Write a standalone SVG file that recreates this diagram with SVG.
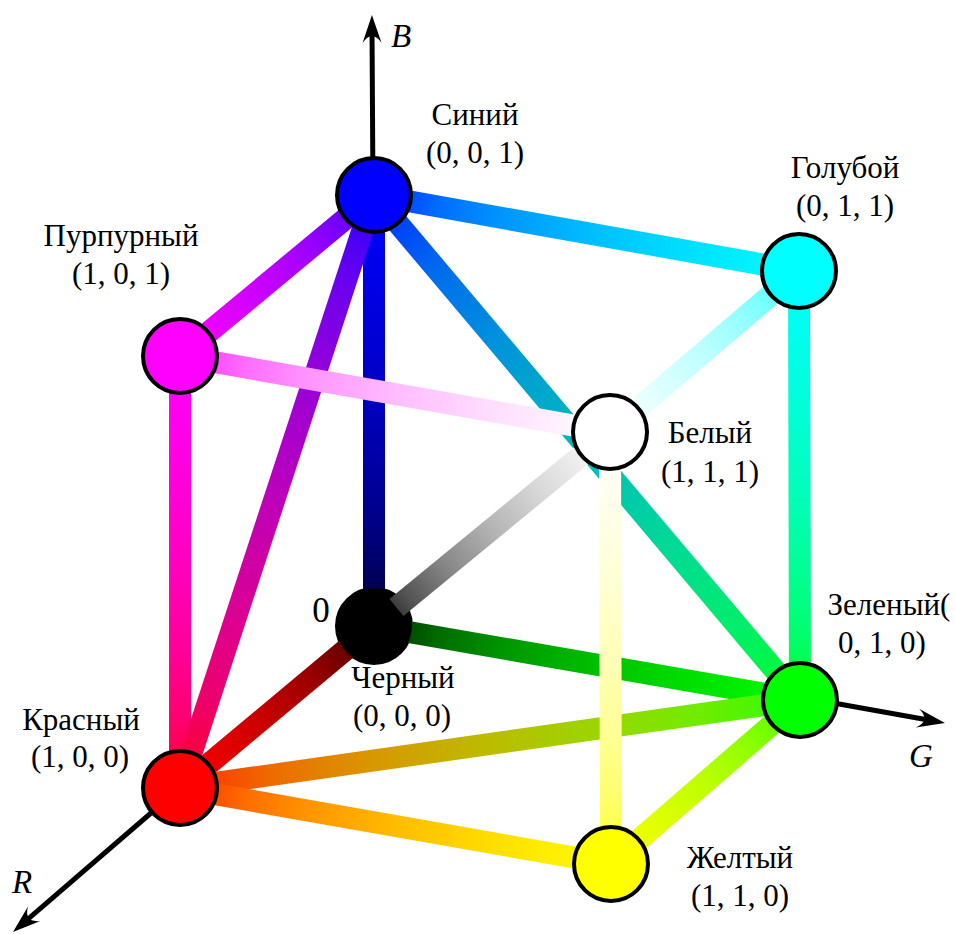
<svg xmlns="http://www.w3.org/2000/svg" width="955" height="934" viewBox="0 0 955 934">
<style>
.edge{fill:none;stroke-width:22;stroke-linecap:butt}
.node{stroke:#000;stroke-width:4}
.lbl{font-family:"Liberation Serif","Times New Roman",serif;font-size:31px;fill:#000;text-anchor:middle}
.ax{font-family:"Liberation Serif","Times New Roman",serif;font-size:33px;font-style:italic;fill:#000}
.axis{fill:none;stroke:#000;stroke-width:5}
</style>
<defs>
<marker id="arrow" viewBox="-30 -12 32 24" markerWidth="32" markerHeight="24" refX="-14" refY="0" markerUnits="userSpaceOnUse" orient="auto">
<path d="M0,0 L-28,-9.5 Q-14,0 -28,9.5 Z" fill="#000"/>
</marker>
<mask id="outsideK" maskUnits="userSpaceOnUse" x="0" y="0" width="955" height="934">
<rect width="955" height="934" fill="#fff"/>
<circle cx="374" cy="626" r="38" fill="#000"/>
</mask>
<linearGradient id="gKR" gradientUnits="userSpaceOnUse" x1="374" y1="626" x2="180" y2="788">
<stop offset="0" stop-color="#000000"/><stop offset=".05" stop-color="#3f0000"/><stop offset=".15" stop-color="#6c0000"/><stop offset=".3" stop-color="#950000"/><stop offset=".5" stop-color="#bc0000"/><stop offset=".7" stop-color="#da0000"/><stop offset=".85" stop-color="#ed0000"/><stop offset=".95" stop-color="#f90000"/><stop offset="1" stop-color="#ff0000"/>
</linearGradient>
<linearGradient id="gKG" gradientUnits="userSpaceOnUse" x1="374" y1="626" x2="800" y2="700">
<stop offset="0" stop-color="#000000"/><stop offset=".05" stop-color="#003f00"/><stop offset=".15" stop-color="#006c00"/><stop offset=".3" stop-color="#009500"/><stop offset=".5" stop-color="#00bc00"/><stop offset=".7" stop-color="#00da00"/><stop offset=".85" stop-color="#00ed00"/><stop offset=".95" stop-color="#00f900"/><stop offset="1" stop-color="#00ff00"/>
</linearGradient>
<linearGradient id="gKB" gradientUnits="userSpaceOnUse" x1="374" y1="626" x2="374" y2="195">
<stop offset="0" stop-color="#000000"/><stop offset=".05" stop-color="#00003f"/><stop offset=".15" stop-color="#00006c"/><stop offset=".3" stop-color="#000095"/><stop offset=".5" stop-color="#0000bc"/><stop offset=".7" stop-color="#0000da"/><stop offset=".85" stop-color="#0000ed"/><stop offset=".95" stop-color="#0000f9"/><stop offset="1" stop-color="#0000ff"/>
</linearGradient>
<linearGradient id="gKW" gradientUnits="userSpaceOnUse" x1="374" y1="626" x2="610" y2="432">
<stop offset="0" stop-color="#000000"/><stop offset=".05" stop-color="#2a2a2a"/><stop offset=".15" stop-color="#555555"/><stop offset=".3" stop-color="#858585"/><stop offset=".5" stop-color="#b4b4b4"/><stop offset=".7" stop-color="#d8d8d8"/><stop offset=".85" stop-color="#ededed"/><stop offset=".95" stop-color="#f9f9f9"/><stop offset="1" stop-color="#ffffff"/>
</linearGradient>
<linearGradient id="gRM" gradientUnits="userSpaceOnUse" x1="180" y1="788" x2="180" y2="356">
<stop offset="0" stop-color="#ff0000"/><stop offset=".05" stop-color="#ff003f"/><stop offset=".15" stop-color="#ff006c"/><stop offset=".3" stop-color="#ff0095"/><stop offset=".5" stop-color="#ff00bc"/><stop offset=".7" stop-color="#ff00da"/><stop offset=".85" stop-color="#ff00ed"/><stop offset=".95" stop-color="#ff00f9"/><stop offset="1" stop-color="#ff00ff"/>
</linearGradient>
<linearGradient id="gRB" gradientUnits="userSpaceOnUse" x1="180" y1="788" x2="374" y2="195">
<stop offset="0" stop-color="#ff0000"/><stop offset=".05" stop-color="#f9003f"/><stop offset=".15" stop-color="#ed006c"/><stop offset=".3" stop-color="#da0095"/><stop offset=".5" stop-color="#bc00bc"/><stop offset=".7" stop-color="#9500da"/><stop offset=".85" stop-color="#6c00ed"/><stop offset=".95" stop-color="#3f00f9"/><stop offset="1" stop-color="#0000ff"/>
</linearGradient>
<linearGradient id="gRG" gradientUnits="userSpaceOnUse" x1="180" y1="788" x2="800" y2="700">
<stop offset="0" stop-color="#ff0000"/><stop offset=".05" stop-color="#f93f00"/><stop offset=".15" stop-color="#ed6c00"/><stop offset=".3" stop-color="#da9500"/><stop offset=".5" stop-color="#bcbc00"/><stop offset=".7" stop-color="#95da00"/><stop offset=".85" stop-color="#6ced00"/><stop offset=".95" stop-color="#3ff900"/><stop offset="1" stop-color="#00ff00"/>
</linearGradient>
<linearGradient id="gRY" gradientUnits="userSpaceOnUse" x1="180" y1="788" x2="611" y2="864">
<stop offset="0" stop-color="#ff0000"/><stop offset=".05" stop-color="#ff3f00"/><stop offset=".15" stop-color="#ff6c00"/><stop offset=".3" stop-color="#ff9500"/><stop offset=".5" stop-color="#ffbc00"/><stop offset=".7" stop-color="#ffda00"/><stop offset=".85" stop-color="#ffed00"/><stop offset=".95" stop-color="#fff900"/><stop offset="1" stop-color="#ffff00"/>
</linearGradient>
<linearGradient id="gGY" gradientUnits="userSpaceOnUse" x1="800" y1="700" x2="611" y2="864">
<stop offset="0" stop-color="#00ff00"/><stop offset=".05" stop-color="#3fff00"/><stop offset=".15" stop-color="#6cff00"/><stop offset=".3" stop-color="#95ff00"/><stop offset=".5" stop-color="#bcff00"/><stop offset=".7" stop-color="#daff00"/><stop offset=".85" stop-color="#edff00"/><stop offset=".95" stop-color="#f9ff00"/><stop offset="1" stop-color="#ffff00"/>
</linearGradient>
<linearGradient id="gGC" gradientUnits="userSpaceOnUse" x1="800" y1="700" x2="799" y2="271">
<stop offset="0" stop-color="#00ff00"/><stop offset=".05" stop-color="#00ff3f"/><stop offset=".15" stop-color="#00ff6c"/><stop offset=".3" stop-color="#00ff95"/><stop offset=".5" stop-color="#00ffbc"/><stop offset=".7" stop-color="#00ffda"/><stop offset=".85" stop-color="#00ffed"/><stop offset=".95" stop-color="#00fff9"/><stop offset="1" stop-color="#00ffff"/>
</linearGradient>
<linearGradient id="gBG" gradientUnits="userSpaceOnUse" x1="374" y1="195" x2="800" y2="700">
<stop offset="0" stop-color="#0000ff"/><stop offset=".05" stop-color="#003ff9"/><stop offset=".15" stop-color="#006ced"/><stop offset=".3" stop-color="#0095da"/><stop offset=".5" stop-color="#00bcbc"/><stop offset=".7" stop-color="#00da95"/><stop offset=".85" stop-color="#00ed6c"/><stop offset=".95" stop-color="#00f93f"/><stop offset="1" stop-color="#00ff00"/>
</linearGradient>
<linearGradient id="gBM" gradientUnits="userSpaceOnUse" x1="374" y1="195" x2="180" y2="356">
<stop offset="0" stop-color="#0000ff"/><stop offset=".05" stop-color="#3f00ff"/><stop offset=".15" stop-color="#6c00ff"/><stop offset=".3" stop-color="#9500ff"/><stop offset=".5" stop-color="#bc00ff"/><stop offset=".7" stop-color="#da00ff"/><stop offset=".85" stop-color="#ed00ff"/><stop offset=".95" stop-color="#f900ff"/><stop offset="1" stop-color="#ff00ff"/>
</linearGradient>
<linearGradient id="gBC" gradientUnits="userSpaceOnUse" x1="374" y1="195" x2="799" y2="271">
<stop offset="0" stop-color="#0000ff"/><stop offset=".05" stop-color="#003fff"/><stop offset=".15" stop-color="#006cff"/><stop offset=".3" stop-color="#0095ff"/><stop offset=".5" stop-color="#00bcff"/><stop offset=".7" stop-color="#00daff"/><stop offset=".85" stop-color="#00edff"/><stop offset=".95" stop-color="#00f9ff"/><stop offset="1" stop-color="#00ffff"/>
</linearGradient>
<linearGradient id="gMW" gradientUnits="userSpaceOnUse" x1="180" y1="356" x2="610" y2="432">
<stop offset="0" stop-color="#ff00ff"/><stop offset=".05" stop-color="#ff3fff"/><stop offset=".15" stop-color="#ff6cff"/><stop offset=".3" stop-color="#ff95ff"/><stop offset=".5" stop-color="#ffbcff"/><stop offset=".7" stop-color="#ffdaff"/><stop offset=".85" stop-color="#ffedff"/><stop offset=".95" stop-color="#fff9ff"/><stop offset="1" stop-color="#ffffff"/>
</linearGradient>
<linearGradient id="gCW" gradientUnits="userSpaceOnUse" x1="799" y1="271" x2="610" y2="432">
<stop offset="0" stop-color="#00ffff"/><stop offset=".05" stop-color="#3fffff"/><stop offset=".15" stop-color="#6cffff"/><stop offset=".3" stop-color="#95ffff"/><stop offset=".5" stop-color="#bcffff"/><stop offset=".7" stop-color="#daffff"/><stop offset=".85" stop-color="#edffff"/><stop offset=".95" stop-color="#f9ffff"/><stop offset="1" stop-color="#ffffff"/>
</linearGradient>
<linearGradient id="gYW" gradientUnits="userSpaceOnUse" x1="611" y1="864" x2="610" y2="432">
<stop offset="0" stop-color="#ffff00"/><stop offset=".05" stop-color="#ffff3f"/><stop offset=".15" stop-color="#ffff6c"/><stop offset=".3" stop-color="#ffff95"/><stop offset=".5" stop-color="#ffffbc"/><stop offset=".7" stop-color="#ffffda"/><stop offset=".85" stop-color="#ffffed"/><stop offset=".95" stop-color="#fffff9"/><stop offset="1" stop-color="#ffffff"/>
</linearGradient>
</defs>

<g id="axes">
<line class="axis" x1="373" y1="195" x2="372" y2="29" marker-end="url(#arrow)"/>
<line class="axis" x1="800" y1="697" x2="931.2" y2="720.5" marker-end="url(#arrow)"/>
<line class="axis" x1="180" y1="788" x2="23.6" y2="922.9" marker-end="url(#arrow)"/>
<text class="ax" x="391" y="47">B</text>
<text class="ax" x="909" y="767">G</text>
<text class="ax" x="12" y="893">R</text>
</g>

<g id="node-black">
<circle class="node" cx="374" cy="626" r="37" fill="#000"/>
<text class="lbl" x="321" y="622" style="font-size:35px">0</text>
<text class="lbl" x="403" y="688">Черный</text>
<text class="lbl" x="402" y="726">(0, 0, 0)</text>
</g>

<g id="connectors">
<g mask="url(#outsideK)">
<line class="edge" x1="374" y1="626" x2="180" y2="788" stroke="url(#gKR)"/>
<line class="edge" x1="374" y1="626" x2="800" y2="700" stroke="url(#gKG)"/>
<line class="edge" x1="374" y1="626" x2="374" y2="195" stroke="url(#gKB)"/>
</g>
<line class="edge" x1="180" y1="788" x2="180" y2="356" stroke="url(#gRM)"/>
<line class="edge" x1="180" y1="788" x2="374" y2="195" stroke="url(#gRB)"/>
<line class="edge" x1="180" y1="788" x2="800" y2="700" stroke="url(#gRG)"/>
<line class="edge" x1="180" y1="788" x2="611" y2="864" stroke="url(#gRY)"/>
<line class="edge" x1="800" y1="700" x2="611" y2="864" stroke="url(#gGY)"/>
<line class="edge" x1="800" y1="700" x2="799" y2="271" stroke="url(#gGC)"/>
<line class="edge" x1="374" y1="195" x2="800" y2="700" stroke="url(#gBG)"/>
<line class="edge" x1="374" y1="195" x2="180" y2="356" stroke="url(#gBM)"/>
<line class="edge" x1="374" y1="195" x2="799" y2="271" stroke="url(#gBC)"/>
<line class="edge" x1="396.4" y1="607.6" x2="610" y2="432" stroke="url(#gKW)"/>
<line class="edge" x1="180" y1="356" x2="610" y2="432" stroke="url(#gMW)"/>
<line class="edge" x1="799" y1="271" x2="610" y2="432" stroke="url(#gCW)"/>
<line class="edge" x1="611" y1="864" x2="610" y2="432" stroke="url(#gYW)"/>
</g>

<g id="node-blue">
<circle class="node" cx="374" cy="195" r="37" fill="#0000ff"/>
<text class="lbl" x="475" y="125">Синий</text>
<text class="lbl" x="475" y="163">(0, 0, 1)</text>
</g>
<g id="node-cyan">
<circle class="node" cx="799" cy="271" r="37" fill="#00ffff"/>
<text class="lbl" x="845" y="178">Голубой</text>
<text class="lbl" x="845" y="216">(0, 1, 1)</text>
</g>
<g id="node-magenta">
<circle class="node" cx="180" cy="356" r="37" fill="#ff00ff"/>
<text class="lbl" x="121" y="246">Пурпурный</text>
<text class="lbl" x="121" y="284">(1, 0, 1)</text>
</g>
<g id="node-white">
<circle class="node" cx="610" cy="432" r="37" fill="#ffffff"/>
<text class="lbl" x="710" y="443">Белый</text>
<text class="lbl" x="710" y="482">(1, 1, 1)</text>
</g>
<g id="node-green">
<circle class="node" cx="800" cy="700" r="37" fill="#00ff00"/>
<text class="lbl" x="889" y="615">Зеленый(</text>
<text class="lbl" x="882" y="653">0, 1, 0)</text>
</g>
<g id="node-red">
<circle class="node" cx="180" cy="788" r="37" fill="#ff0000"/>
<text class="lbl" x="81" y="730">Красный</text>
<text class="lbl" x="80" y="767">(1, 0, 0)</text>
</g>
<g id="node-yellow">
<circle class="node" cx="611" cy="864" r="37" fill="#ffff00"/>
<text class="lbl" x="740" y="868">Желтый</text>
<text class="lbl" x="740" y="906">(1, 1, 0)</text>
</g>
</svg>
